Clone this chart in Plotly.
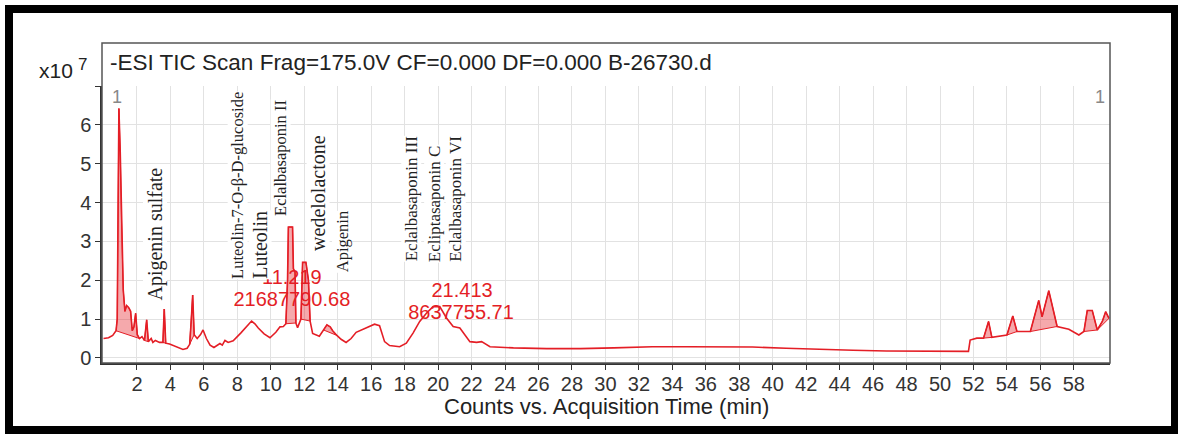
import plotly.graph_objects as go
import numpy as np

# ---- data (retention time in min, counts in x10^7) ----
time_min = [0.0, 0.3, 0.55, 0.7, 0.75, 0.82, 0.92, 1.0, 1.08, 1.18, 1.28, 1.38, 1.5, 1.62, 1.72, 1.82,
            1.92, 2.02, 2.15, 2.3, 2.45, 2.58, 2.68, 2.85, 2.95, 3.1, 3.35, 3.55, 3.63, 3.72, 3.95,
            4.3, 4.75, 5.0, 5.15, 5.25, 5.33, 5.42, 5.6, 5.8, 5.95, 6.15, 6.37, 6.6, 6.96, 7.1,
            7.26, 7.45, 7.75, 8.2, 8.6, 8.85, 9.05, 9.25, 9.6, 9.95, 10.3, 10.55, 10.75, 10.9,
            11.0, 11.05, 11.3, 11.35, 11.45, 11.5, 11.6, 11.8, 11.9, 12.1, 12.25, 12.35, 12.5,
            12.9, 13.15, 13.35, 13.55, 13.7, 13.95, 14.2, 14.5, 14.8, 15.1, 15.7, 16.2, 16.5,
            16.8, 17.1, 17.7, 18.1, 18.5, 18.9, 19.3, 19.7, 20.1, 20.5, 20.9, 21.3, 21.6, 21.9,
            22.3, 22.6, 23.1, 24.5, 26.5, 28.5, 30.5, 32.8, 34.9, 36.9, 38.8, 40.8, 42.8, 44.8,
            46.8, 48.8, 50.8, 51.7, 51.8, 52.2, 52.6, 52.9, 53.1, 53.6, 54.0, 54.35, 54.6, 55.4,
            55.9, 56.1, 56.5, 57.0, 57.7, 58.3, 58.6, 58.8, 59.1, 59.4, 59.7, 59.9, 60.1]
counts_e7 = [0.50, 0.52, 0.58, 0.68, 0.70, 1.00, 6.42, 5.30, 3.50, 1.75, 1.20, 1.35, 1.30, 1.20, 0.70, 0.80,
             1.15, 0.60, 0.50, 0.55, 0.45, 0.98, 0.42, 0.50, 0.40, 0.45, 0.40, 0.40, 1.26, 0.38, 0.36,
             0.30, 0.22, 0.25, 0.35, 1.00, 1.62, 0.60, 0.50, 0.60, 0.72, 0.50, 0.33, 0.27, 0.37, 0.33,
             0.45, 0.40, 0.44, 0.64, 0.82, 0.95, 0.88, 0.77, 0.62, 0.52, 0.66, 0.80, 0.81, 0.88,
             2.00, 3.37, 3.37, 2.30, 2.20, 0.90, 0.78, 1.00, 2.46, 2.46, 2.00, 0.95, 0.63,
             0.56, 0.72, 0.85, 0.80, 0.70, 0.58, 0.48, 0.40, 0.50, 0.66, 0.77, 0.87, 0.83,
             0.42, 0.32, 0.29, 0.38, 0.64, 0.94, 1.15, 1.32, 1.32, 1.03, 0.81, 0.77, 0.59, 0.42,
             0.40, 0.42, 0.29, 0.26, 0.24, 0.24, 0.26, 0.29, 0.29, 0.29, 0.28, 0.25, 0.22, 0.20,
             0.18, 0.17, 0.16, 0.17, 0.46, 0.51, 0.51, 0.94, 0.53, 0.57, 0.59, 1.08, 0.68, 0.68,
             1.48, 1.06, 1.73, 0.81, 0.74, 0.59, 0.68, 1.22, 1.22, 0.72, 0.94, 1.19, 1.02]

# integrated peak windows (start, end) in min
peak_windows = [(0.75, 2.15), (2.45, 2.68), (3.55, 3.72), (5.15, 5.42), (10.9, 11.5),
                (11.8, 12.35), (13.15, 13.95), (52.6, 53.1), (54.0, 54.6), (55.4, 57.0),
                (58.6, 59.4), (59.4, 60.1)]

compounds = ["Apigenin sulfate", "Luteolin-7-O-β-D-glucoside", "Luteolin", "Eclalbasaponin II",
             "wedelolactone", "Apigenin", "Eclalbasaponin III", "Ecliptasaponin C", "Eclalbasaponin VI"]
compound_rt = [3.08, 8.01, 9.35, 10.61, 12.82, 14.25, 18.38, 19.75, 21.07]

peak_labels = ["11.219", "21687790.68", "21.413", "8637755.71"]

x_ticks = list(range(2, 59, 2))
y_ticks = [0, 1, 2, 3, 4, 5, 6, 7]
y_ticktext = ["0", "1", "2", "3", "4", "5", "6", ""]

title_text = "-ESI TIC Scan Frag=175.0V CF=0.000 DF=0.000 B-26730.d"
x_title = "Counts vs. Acquisition Time (min)"

RED = "#e41e26"
SANS = "Arial, 'Liberation Sans', sans-serif"
SERIF = "'Times New Roman', 'Liberation Serif', serif"

t_arr = np.array(time_min)
c_arr = np.array(counts_e7)

fig = go.Figure()

# red peak labels drawn beneath the trace
fig.add_trace(go.Scatter(
    x=[11.26, 11.26, 21.43, 21.37], y=[2.04, 1.47, 1.70, 1.13],
    mode="text", text=peak_labels,
    textfont=dict(family=SANS, size=20, color=RED),
    hoverinfo="skip", showlegend=False))

# filled integrated peaks
for (a, b) in peak_windows:
    m = (t_arr >= a - 1e-9) & (t_arr <= b + 1e-9)
    xs = list(t_arr[m])
    ys = list(c_arr[m])
    poly_x = xs + [xs[-1], xs[0]]
    poly_y = ys + [ys[-1], ys[0]]
    fig.add_trace(go.Scatter(
        x=poly_x, y=poly_y, mode="lines", fill="toself",
        fillcolor="rgba(228,30,38,0.38)", line=dict(color=RED, width=1),
        hoverinfo="skip", showlegend=False))

fig.add_trace(go.Scatter(
    x=time_min, y=counts_e7, mode="lines",
    line=dict(color=RED, width=1.6), showlegend=False))

# geometry helpers (pixels -> paper)
L, R, T, B = 102, 1110, 86, 363
def px(x):
    return (x - L) / (R - L)
def py(y):
    return (B - y) / (B - T)

annotations = []
comp_bottom = [1.44, 2.01, 2.01, 3.63, 2.73, 2.19, 2.45, 2.45, 2.45]
comp_size = [20, 16.5, 20, 16.5, 20, 16.5, 17, 17, 17]
for name, rt, yb, fs in zip(compounds, compound_rt, comp_bottom, comp_size):
    annotations.append(dict(
        x=rt, y=yb, xref="x", yref="y", text=name, textangle=-90,
        xanchor="center", yanchor="bottom", showarrow=False,
        font=dict(family=SERIF, size=fs, color="#222222"),
        bgcolor="white", borderpad=0))

annotations += [
    dict(x=px(108), y=py(62), xref="paper", yref="paper", text=title_text,
         xanchor="left", yanchor="middle", showarrow=False,
         font=dict(family=SANS, size=22.5, color="#222222")),
    dict(x=px(56), y=py(71), xref="paper", yref="paper", text="x10",
         xanchor="center", yanchor="middle", showarrow=False,
         font=dict(family=SANS, size=21, color="#222222")),
    dict(x=px(82), y=py(64), xref="paper", yref="paper", text="7",
         xanchor="center", yanchor="middle", showarrow=False,
         font=dict(family=SANS, size=17, color="#222222")),
    dict(x=px(117), y=py(97), xref="paper", yref="paper", text="1",
         xanchor="center", yanchor="middle", showarrow=False,
         font=dict(family=SANS, size=18, color="#888888")),
    dict(x=px(1100), y=py(97), xref="paper", yref="paper", text="1",
         xanchor="center", yanchor="middle", showarrow=False,
         font=dict(family=SANS, size=18, color="#888888")),
    dict(x=px(606), y=py(406), xref="paper", yref="paper", text=x_title,
         xanchor="center", yanchor="middle", showarrow=False,
         font=dict(family=SANS, size=22, color="#222222")),
]

shapes = [
    dict(type="rect", xref="paper", yref="paper", x0=0, x1=1, y0=0, y1=py(43),
         line=dict(color="#555555", width=1.5), layer="above"),
    dict(type="rect", xref="paper", yref="paper", x0=px(9), x1=px(1175), y0=py(430), y1=py(9),
         line=dict(color="black", width=8), layer="above"),
]

fig.update_layout(
    width=1178, height=434,
    margin=dict(l=L, r=1178 - R, t=T, b=434 - B),
    paper_bgcolor="white", plot_bgcolor="white",
    annotations=annotations, shapes=shapes,
    xaxis=dict(range=[-0.09, 60.16], tickvals=x_ticks, showgrid=True,
               gridcolor="#e2e2e2", gridwidth=1, zeroline=False,
               showline=True, linecolor="#333333", linewidth=1.5,
               ticks="outside", ticklen=5, tickcolor="#333333", ticklabelstandoff=-3,
               tickfont=dict(family=SANS, size=20, color="#333333")),
    yaxis=dict(range=[-0.13, 7.0], tickvals=y_ticks, ticktext=y_ticktext, showgrid=True,
               gridcolor="#e2e2e2", gridwidth=1, zeroline=False,
               showline=True, linecolor="#333333", linewidth=1.5,
               ticks="outside", ticklen=5, tickcolor="#333333",
               tickfont=dict(family=SANS, size=20, color="#333333")),
)

fig.write_html("out.html", config={"displayModeBar": False},
               post_script="document.body.style.margin='0px';document.body.style.overflow='hidden';")
